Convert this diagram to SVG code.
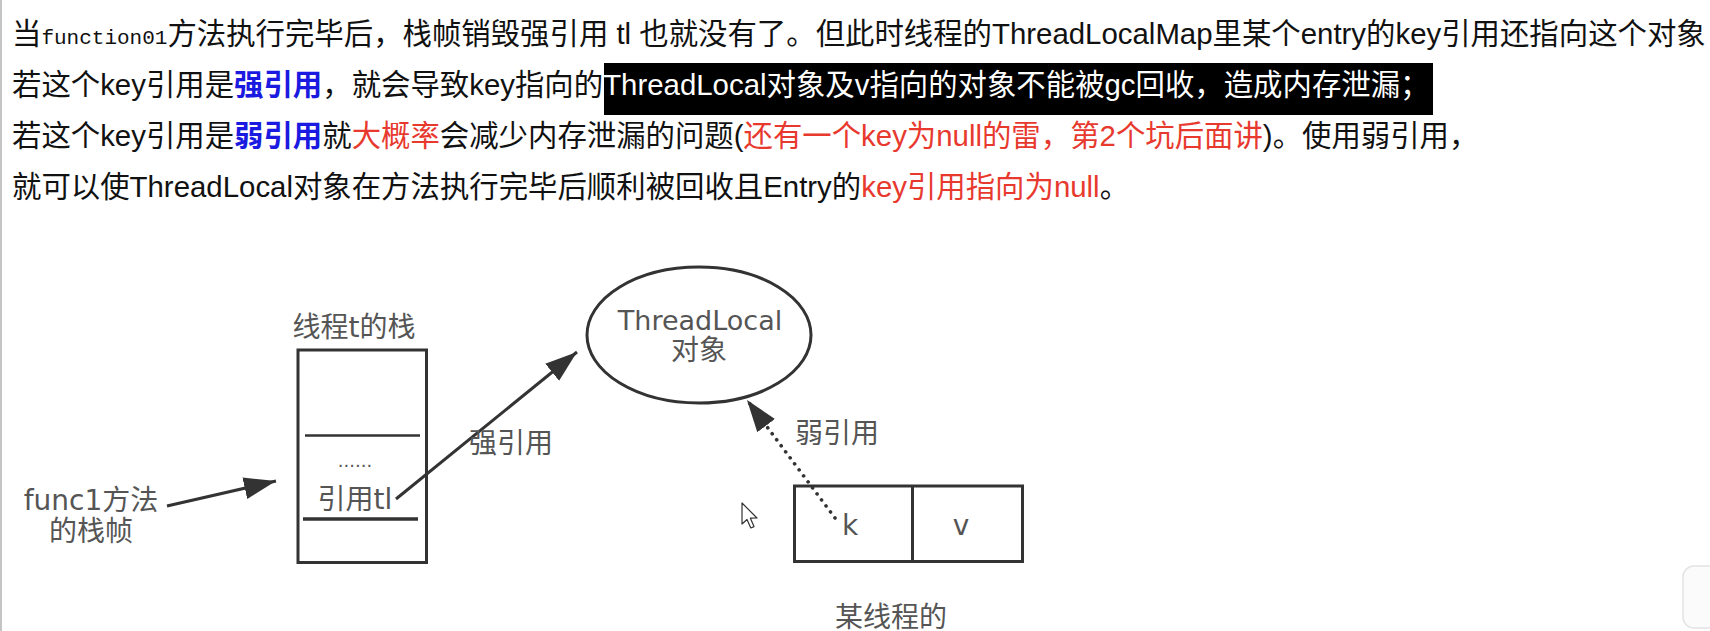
<svg xmlns="http://www.w3.org/2000/svg" width="1710" height="631" viewBox="0 0 1710 631">
<style>
.para{font-family:"Liberation Sans","Noto Sans CJK SC",sans-serif;font-size:29.4px;fill:#111}
.mono{font-family:"Liberation Mono","DejaVu Sans Mono",monospace;font-size:21px}
.blue{fill:#1a1ae0;font-weight:bold}
.red{fill:#e8392e}
.inv{fill:#ffffff}
.lbl{font-family:"DejaVu Sans","Noto Sans CJK SC",sans-serif;font-size:28px;fill:#555;text-anchor:middle}
.shape{fill:none;stroke:#333;stroke-width:3}
.conn{fill:none;stroke:#333;stroke-width:3}
.dotted{fill:none;stroke:#333;stroke-width:3.6;stroke-linecap:round;stroke-dasharray:0.1 7.4}
</style>
<defs>
<marker id="arrow" markerUnits="userSpaceOnUse" markerWidth="36" markerHeight="26" refX="32" refY="11" orient="auto">
<path d="M0,0 L32,11 L0,22 Z" fill="#333"/>
</marker>
</defs>
<rect width="1710" height="631" fill="#ffffff"/>
<line x1="1" y1="0" x2="1" y2="631" stroke="#c4c4c4" stroke-width="2"/>

<g id="paragraph">
<rect x="604" y="63" width="829" height="52" fill="#000"/>
<text class="para" x="12" y="44">当<tspan class="mono">function01</tspan>方法执行完毕后，栈帧销毁强引用 tl 也就没有了。但此时线程的ThreadLocalMap里某个entry的key引用还指向这个对象</text>
<text class="para" x="12" y="95">若这个key引用是<tspan class="blue">强引用</tspan>，就会导致key指向的<tspan class="inv">ThreadLocal对象及v指向的对象不能被gc回收，造成内存泄漏；</tspan></text>
<text class="para" x="12" y="146">若这个key引用是<tspan class="blue">弱引用</tspan>就<tspan class="red">大概率</tspan>会减少内存泄漏的问题(<tspan class="red">还有一个key为null的雷，第2个坑后面讲</tspan>)。使用弱引用，</text>
<text class="para" x="12" y="197">就可以使ThreadLocal对象在方法执行完毕后顺利被回收且Entry的<tspan class="red">key引用指向为null</tspan>。</text>
</g>

<g id="connectors">
<line class="conn" x1="167" y1="506" x2="276" y2="481" marker-end="url(#arrow)"/>
<line class="conn" x1="396" y1="499" x2="577" y2="352" marker-end="url(#arrow)"/>
<line class="dotted" x1="835" y1="518" x2="747" y2="400" marker-end="url(#arrow)"/>
</g>

<g id="func1-label">
<text class="lbl" x="91" y="510">func1方法</text>
<text class="lbl" x="91" y="541">的栈帧</text>
</g>

<g id="thread-stack">
<text class="lbl" x="354" y="337">线程t的栈</text>
<rect class="shape" x="298" y="350" width="128.5" height="212.5"/>
<line x1="305" y1="435.5" x2="420" y2="435.5" stroke="#333" stroke-width="2.5"/>
<text class="lbl" x="355" y="467" style="font-size:18px">......</text>
<text class="lbl" x="355" y="509">引用tl</text>
<line x1="303" y1="519" x2="418" y2="519" stroke="#333" stroke-width="3.5"/>
</g>

<g id="strong-label">
<text class="lbl" x="511" y="453">强引用</text>
</g>

<g id="threadlocal-object">
<ellipse class="shape" cx="699" cy="335" rx="112" ry="68"/>
<text class="lbl" x="700" y="330" style="font-size:27px">ThreadLocal</text>
<text class="lbl" x="699" y="360">对象</text>
</g>

<g id="weak-label">
<text class="lbl" x="837" y="443">弱引用</text>
</g>

<g id="entry">
<rect class="shape" x="794.5" y="486" width="228" height="75.5"/>
<line x1="912.5" y1="486" x2="912.5" y2="561.5" stroke="#333" stroke-width="3"/>
<text class="lbl" x="850" y="535">k</text>
<text class="lbl" x="961" y="535">v</text>
<text class="lbl" x="891" y="627">某线程的</text>
</g>

<g id="cursor">
<path d="M742,503 L742,524 L747,519.5 L750.8,528 L754,526.6 L750.4,518.2 L757,518 Z" fill="#fff" stroke="#333" stroke-width="1.2" stroke-linejoin="round"/>
</g>

<g id="corner-widget">
<rect x="1683" y="566" width="44" height="62" rx="11" fill="#fbfbfb" stroke="#e3e3e3" stroke-width="1.5"/>
</g>
</svg>
